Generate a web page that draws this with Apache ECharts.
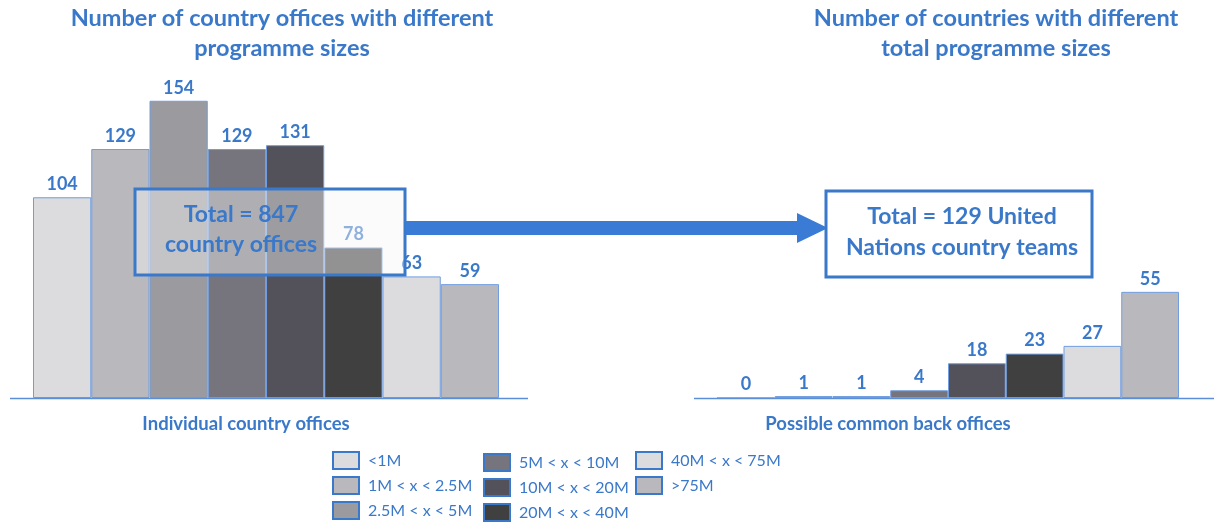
<!DOCTYPE html>
<html>
<head>
<meta charset="utf-8">
<script src="https://cdn.jsdelivr.net/npm/echarts@6/dist/echarts.min.js"></script>
<style>
  html, body { margin: 0; padding: 0; background: #ffffff; }
  #chart { width: 1214px; height: 523px; }
</style>
</head>
<body>
<div id="chart"></div>
<script>
// Programme size classes (one colour each)
const sizeClasses = ['<1M', '1M < x < 2.5M', '2.5M < x < 5M', '5M < x < 10M',
                     '10M < x < 20M', '20M < x < 40M', '40M < x < 75M', '>75M'];
// Number of individual country offices per size class
const officeCounts = [104, 129, 154, 129, 131, 78, 63, 59];
// Number of countries per total programme size class
const countryCounts = [0, 1, 1, 4, 18, 23, 27, 55];

const classColors = ['#dcdcdf', '#b9b8bd', '#9b9a9f', '#76757d',
                     '#53525b', '#404040', '#dcdcdf', '#b9b8bd'];

const BLUE = '#3a78c9';
const FONT = 'Lato, "Open Sans", sans-serif';

const chart = echarts.init(document.getElementById('chart'), null, { renderer: 'canvas' });

function seriesFor(values, gridIndex, stackName) {
  return sizeClasses.map((name, i) => ({
    name: name,
    type: 'bar',
    xAxisIndex: gridIndex,
    yAxisIndex: gridIndex,
    stack: stackName,
    barCategoryGap: 0,
    data: values.map((v, j) => (j === i ? v : '-')),
    itemStyle: { color: classColors[i], borderColor: '#6f9de0', borderWidth: 1 },
    label: {
      show: true,
      position: 'top',
      distance: 4,
      color: BLUE,
      fontFamily: FONT,
      fontWeight: 'bold',
      fontSize: 18
    },
    emphasis: { disabled: true },
    animation: false
  }));
}

const legendBase = {
  orient: 'vertical',
  padding: 0,
  itemWidth: 26,
  itemHeight: 17,
  itemGap: 6,
  icon: 'rect',
  selectedMode: false,
  itemStyle: { borderColor: BLUE, borderWidth: 2 },
  textStyle: { color: BLUE, fontSize: 16, fontFamily: FONT, padding: [0, 0, 0, 4] }
};

const option = {
  backgroundColor: '#ffffff',
  animation: false,
  grid: [
    { left: 33, top: 12, width: 466, height: 386 },
    { left: 717, top: 12, width: 462, height: 386 }
  ],
  xAxis: [0, 1].map(g => ({
    type: 'category', gridIndex: g, data: sizeClasses,
    axisLine: { show: false }, axisTick: { show: false }, axisLabel: { show: false }
  })),
  yAxis: [0, 1].map(g => ({
    type: 'value', gridIndex: g, min: 0, max: 200,
    show: false, splitLine: { show: false }
  })),
  legend: [
    Object.assign({ left: 332, top: 451, data: sizeClasses.slice(0, 3) }, legendBase),
    Object.assign({ left: 483, top: 453, data: sizeClasses.slice(3, 6) }, legendBase),
    Object.assign({ left: 635, top: 451, data: sizeClasses.slice(6, 8) }, legendBase)
  ],
  series: seriesFor(officeCounts, 0, 'offices').concat(seriesFor(countryCounts, 1, 'countries')),
  graphic: [
    // baselines
    { type: 'line', z: 50, shape: { x1: 10, y1: 398.5, x2: 528, y2: 398.5 },
      style: { stroke: '#5b8fd8', lineWidth: 1.5 } },
    { type: 'line', z: 50, shape: { x1: 694, y1: 398.5, x2: 1214, y2: 398.5 },
      style: { stroke: '#5b8fd8', lineWidth: 1.5 } },
    // panel titles
    { type: 'text', z: 50, x: 282, y: 33, style: {
        text: 'Number of country offices with different\nprogramme sizes',
        fill: BLUE, font: 'bold 23.5px ' + FONT, textAlign: 'center', textVerticalAlign: 'middle', lineHeight: 30 } },
    { type: 'text', z: 50, x: 996, y: 33, style: {
        text: 'Number of countries with different\ntotal programme sizes',
        fill: BLUE, font: 'bold 23.5px ' + FONT, textAlign: 'center', textVerticalAlign: 'middle', lineHeight: 30 } },
    // axis captions
    { type: 'text', z: 50, x: 246, y: 424, style: {
        text: 'Individual country offices', fill: BLUE, font: 'bold 18.5px ' + FONT,
        textAlign: 'center', textVerticalAlign: 'middle' } },
    { type: 'text', z: 50, x: 888, y: 424, style: {
        text: 'Possible common back offices', fill: BLUE, font: 'bold 18.5px ' + FONT,
        textAlign: 'center', textVerticalAlign: 'middle' } },
    // translucent total box over the left bars
    { type: 'rect', z: 100, shape: { x: 135, y: 189, width: 270, height: 86 },
      style: { fill: 'rgba(246,246,247,0.45)', stroke: BLUE, lineWidth: 3 } },
    { type: 'text', z: 101, x: 241, y: 230, style: {
        text: 'Total = 847\ncountry offices', fill: BLUE, font: 'bold 23px ' + FONT,
        textAlign: 'center', textVerticalAlign: 'middle', lineHeight: 30 } },
    // arrow
    { type: 'polygon', z: 100, shape: { points: [[406, 221], [797, 221], [797, 213], [828, 228],
                                                  [797, 243], [797, 235], [406, 235]] },
      style: { fill: '#3a7bd5' } },
    // right total box
    { type: 'rect', z: 100, shape: { x: 826, y: 191, width: 266, height: 86 },
      style: { fill: '#ffffff', stroke: BLUE, lineWidth: 3 } },
    { type: 'text', z: 101, x: 962, y: 232, style: {
        text: 'Total = 129 United\nNations country teams', fill: BLUE, font: 'bold 23px ' + FONT,
        textAlign: 'center', textVerticalAlign: 'middle', lineHeight: 31 } }
  ]
};

chart.setOption(option);
</script>
</body>
</html>
